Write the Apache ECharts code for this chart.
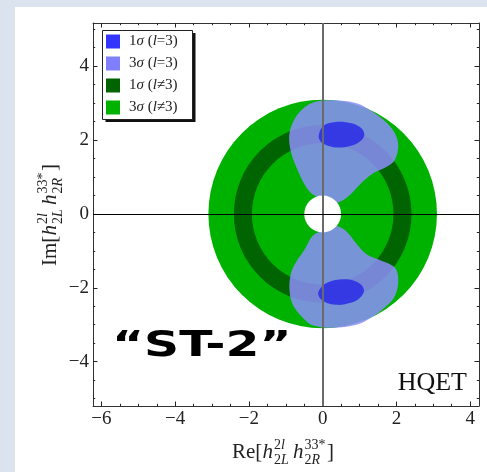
<!DOCTYPE html>
<html><head><meta charset="utf-8">
<script src="https://cdn.jsdelivr.net/npm/echarts@6/dist/echarts.min.js"></script>
<style>
html,body{margin:0;padding:0;background:#dbe4ee;overflow:hidden}
#panel{position:absolute;left:15px;top:7px;width:472px;height:465px;background:#fff}
#c{position:absolute;left:0;top:0;width:487px;height:472px}
</style>
</head><body><div id="panel"></div><div id="c"></div>
<script>
// ---- data ----
const xTickLabels = [-6, -4, -2, 0, 2, 4];
const xMinorTicks = [-6, -5.5, -5, -4.5, -4, -3.5, -3, -2.5, -2, -1.5, -1, -0.5, 0, 0.5, 1, 1.5, 2, 2.5, 3, 3.5, 4];
const yTickLabels = [-4, -2, 0, 2, 4];
const yMinorTicks = [-5, -4.5, -4, -3.5, -3, -2.5, -2, -1.5, -1, -0.5, 0, 0.5, 1, 1.5, 2, 2.5, 3, 3.5, 4, 4.5, 5];
const xRange = [-6.23, 4.24];
const yRange = [-5.2, 5.17];

const seriesNames = ['1σ (l=3)', '3σ (l=3)', '1σ (l≠3)', '3σ (l≠3)'];
const center = [0, 0];
const sigma3OtherRadius = [3.1];          // outer disk, 3σ (l≠3)
const sigma1OtherRing = [1.92, 2.41];     // inner/outer radius, 1σ (l≠3)
const holeRadius = [0.5];                 // excluded region

const sigma3UpperShape = [[-0.26,3.02],[0.29,3.08],[0.92,3.0],[1.30,2.80],[1.70,2.50],[1.95,2.20],[2.05,1.86],[1.96,1.47],[1.74,1.28],[1.37,1.10],[1.01,0.80],[0.65,0.44],[0.33,0.30],[0.02,0.42],[-0.26,0.52],[-0.48,0.78],[-0.66,1.14],[-0.84,1.60],[-0.91,2.05],[-0.84,2.41],[-0.62,2.77]];
const sigma3LowerShape = [[-0.26,-3.02],[0.29,-3.08],[0.92,-3.0],[1.30,-2.82],[1.70,-2.52],[1.96,-2.22],[2.05,-1.80],[1.96,-1.46],[1.55,-1.25],[1.20,-1.10],[0.95,-0.85],[0.62,-0.45],[0.33,-0.32],[0.02,-0.45],[-0.26,-0.58],[-0.48,-0.95],[-0.72,-1.30],[-0.86,-1.60],[-0.90,-2.06],[-0.80,-2.48],[-0.50,-2.85]];
const sigma1UpperShape = [[-0.10,2.16],[0.02,2.38],[0.30,2.48],[0.70,2.47],[1.00,2.36],[1.13,2.16],[1.02,1.97],[0.74,1.84],[0.38,1.80],[0.06,1.88],[-0.08,2.0]];
const sigma1LowerShape = [[-0.12,-2.19],[-0.05,-2.0],[0.15,-1.85],[0.56,-1.77],[0.95,-1.85],[1.12,-2.06],[1.0,-2.28],[0.7,-2.42],[0.38,-2.46],[0.05,-2.38]];

const sigma3Shapes = [sigma3UpperShape, sigma3LowerShape];
const sigma1Shapes = [sigma1UpperShape, sigma1LowerShape];

// ---- helpers ----
const SERIF = '"Liberation Serif","DejaVu Serif",serif';
function fmtTick(v){ return v < 0 ? '\u2212' + Math.abs(v) : String(v); }

function makeAxis(dim, pos, majors, minors, showLabel, isMinor){
  const rng = dim === 'x' ? xRange : yRange;
  const vals = isMinor ? minors : majors;
  return {
    type: 'value', position: pos, min: rng[0], max: rng[1], gridIndex: 0,
    axisLine: { show: !isMinor, onZero: false, lineStyle: { color: '#333', width: 1 } },
    axisTick: { show: true, inside: true, length: isMinor ? 2.2 : 4.5, customValues: vals,
                lineStyle: { color: '#222', width: 1 } },
    axisLabel: showLabel ? { show: true, customValues: vals, formatter: fmtTick,
                color: '#222', fontFamily: SERIF, fontSize: 19, margin: 4 }
               : { show: false, customValues: vals },
    splitLine: { show: false }, splitArea: { show: false }
  };
}

function polyRender(shapes, color, smooth){
  return function(params, api){
    const shape = shapes[api.value(2)];
    const pts = shape.map(p => api.coord(p));
    return { type: 'polygon', shape: { points: pts, smooth: smooth }, style: { fill: color } };
  };
}

function legendFmt(name){
  const m = name.match(/^(\d)σ \(l(.)3\)$/);
  return '{p|}{n|' + m[1] + '}{i|σ}{n| (}{i|l}{n|' + m[2] + '3)}';
}

// axis title built from text pieces: prefix + h^{2l}_{2L} h^{33*}_{2R}
function axisTitle(prefix){
  const main = 'normal 21px ' + SERIF, mainI = 'italic 21px ' + SERIF;
  const sm = 'normal 14px ' + SERIF, smI = 'italic 14px ' + SERIF;
  const rich = { a: { font: sm, fill: '#222' }, b: { font: smI, fill: '#222' } };
  function t(x, y, text, font){ return { type: 'text', x: x, y: y, style: { text: text, font: font, fill: '#222', verticalAlign: 'middle', align: 'left' } }; }
  function r(x, y, text){ return { type: 'text', x: x, y: y, style: { rich: rich, text: text, verticalAlign: 'middle', align: 'left' } }; }
  return [
    t(0, 0, prefix + '[', main),
    t(30.5, 0, 'h', mainI),
    r(42, -7, '{a|2}{b|l}'),
    r(42, 8, '{a|2}{b|L}'),
    t(61, 0, 'h', mainI),
    r(72.5, -7, '{a|33*}'),
    r(72.5, 8, '{a|2}{b|R}'),
    t(95, 0, ']', main)
  ];
}

const chart = echarts.init(document.getElementById('c'), null, { renderer: 'canvas' });

const option = {
  animation: false,
  backgroundColor: 'transparent',
  grid: { left: 93, right: 8, top: 23, bottom: 66, containLabel: false, outerBoundsMode: 'none' },
  xAxis: [
    makeAxis('x', 'bottom', xTickLabels, xMinorTicks, true, false),
    makeAxis('x', 'bottom', xTickLabels, xMinorTicks, false, true),
    makeAxis('x', 'top', xTickLabels, xMinorTicks, false, false),
    makeAxis('x', 'top', xTickLabels, xMinorTicks, false, true)
  ],
  yAxis: [
    makeAxis('y', 'left', yTickLabels, yMinorTicks, true, false),
    makeAxis('y', 'left', yTickLabels, yMinorTicks, false, true),
    makeAxis('y', 'right', yTickLabels, yMinorTicks, false, false),
    makeAxis('y', 'right', yTickLabels, yMinorTicks, false, true)
  ],
  legend: {
    orient: 'vertical', left: 103, top: 30, padding: [4, 8, 6, 3],
    itemGap: 7, itemWidth: 14, itemHeight: 14, icon: 'rect',
    selectedMode: false, z: 6,
    data: [
      { name: seriesNames[0], itemStyle: { color: '#3434ff' } },
      { name: seriesNames[1], itemStyle: { color: '#8080ff' } },
      { name: seriesNames[2], itemStyle: { color: '#006400' } },
      { name: seriesNames[3], itemStyle: { color: '#00b200' } }
    ],
    formatter: legendFmt,
    textStyle: { fontSize: 15, fontFamily: SERIF, color: '#222',
      rich: { p: { width: 4 },
              n: { fontSize: 15, fontFamily: SERIF, color: '#222' },
              i: { fontSize: 15, fontFamily: SERIF, fontStyle: 'italic', color: '#222' } } }
  },
  series: [
    {
      type: 'custom', name: seriesNames[3], coordinateSystem: 'cartesian2d',
      itemStyle: { color: '#00b200' },
      data: [[center[0], center[1], sigma3OtherRadius[0]]],
      renderItem: function(params, api){
        const c = api.coord([api.value(0), api.value(1)]);
        const e = api.coord([api.value(0) + api.value(2), api.value(1)]);
        return { type: 'circle', shape: { cx: c[0], cy: c[1], r: e[0] - c[0] }, style: { fill: '#00b200' } };
      }
    },
    {
      type: 'custom', name: seriesNames[2], coordinateSystem: 'cartesian2d',
      itemStyle: { color: '#006400' },
      data: [[center[0], center[1], sigma1OtherRing[0], sigma1OtherRing[1]]],
      renderItem: function(params, api){
        const c = api.coord([api.value(0), api.value(1)]);
        const e0 = api.coord([api.value(0) + api.value(2), api.value(1)]);
        const e1 = api.coord([api.value(0) + api.value(3), api.value(1)]);
        return { type: 'ring', shape: { cx: c[0], cy: c[1], r0: e0[0] - c[0], r: e1[0] - c[0] }, style: { fill: '#006500' } };
      }
    },
    {
      type: 'custom', name: seriesNames[1], coordinateSystem: 'cartesian2d',
      itemStyle: { color: '#8080ff' },
      data: sigma3Shapes.map((s, i) => [s[0][0], s[0][1], i]),
      renderItem: polyRender(sigma3Shapes, 'rgba(142,142,255,0.84)', 0.35)
    },
    {
      type: 'custom', name: seriesNames[0], coordinateSystem: 'cartesian2d',
      itemStyle: { color: '#3434ff' },
      data: sigma1Shapes.map((s, i) => [s[0][0], s[0][1], i]),
      renderItem: polyRender(sigma1Shapes, 'rgba(40,44,230,0.85)', 0.4)
    },
    {
      type: 'custom', name: 'hole', coordinateSystem: 'cartesian2d',
      data: [[center[0], center[1], holeRadius[0]]],
      renderItem: function(params, api){
        const c = api.coord([api.value(0), api.value(1)]);
        const e = api.coord([api.value(0) + api.value(2), api.value(1)]);
        return { type: 'circle', shape: { cx: c[0], cy: c[1], r: e[0] - c[0] }, style: { fill: '#ffffff' } };
      },
      markLine: {
        silent: true, symbol: ['none', 'none'], label: { show: false }, animation: false,
        data: [
          { xAxis: 0, lineStyle: { color: '#6a6a6a', width: 2, type: 'solid' } },
          { yAxis: 0, lineStyle: { color: '#000', width: 1, type: 'solid' } }
        ]
      }
    }
  ],
  graphic: [
    { type: 'rect', z: 5, shape: { x: 105.5, y: 33, width: 90, height: 89 }, style: { fill: '#111' } },
    { type: 'rect', z: 5, shape: { x: 102.5, y: 30.5, width: 90, height: 89 }, style: { fill: '#fff', stroke: '#222', lineWidth: 1 } },
    { type: 'group', x: 232, y: 452, children: axisTitle('Im'.replace('Im', 'Re')) },
    { type: 'group', x: 50, y: 266, rotation: Math.PI / 2, children: axisTitle('Im') },
    { type: 'text', x: 112, y: 347, z: 10, scaleX: 1.22, scaleY: 0.9,
      style: { text: '\u201CST-2\u201D', font: 'bold 40px "DejaVu Sans",sans-serif', fill: '#000', verticalAlign: 'middle' } },
    { type: 'text', x: 467, y: 383, z: 10, style: { text: 'HQET', font: 'normal 26px ' + SERIF, fill: '#111', align: 'right', verticalAlign: 'middle' } }
  ]
};
chart.setOption(option);
</script>
</body></html>
